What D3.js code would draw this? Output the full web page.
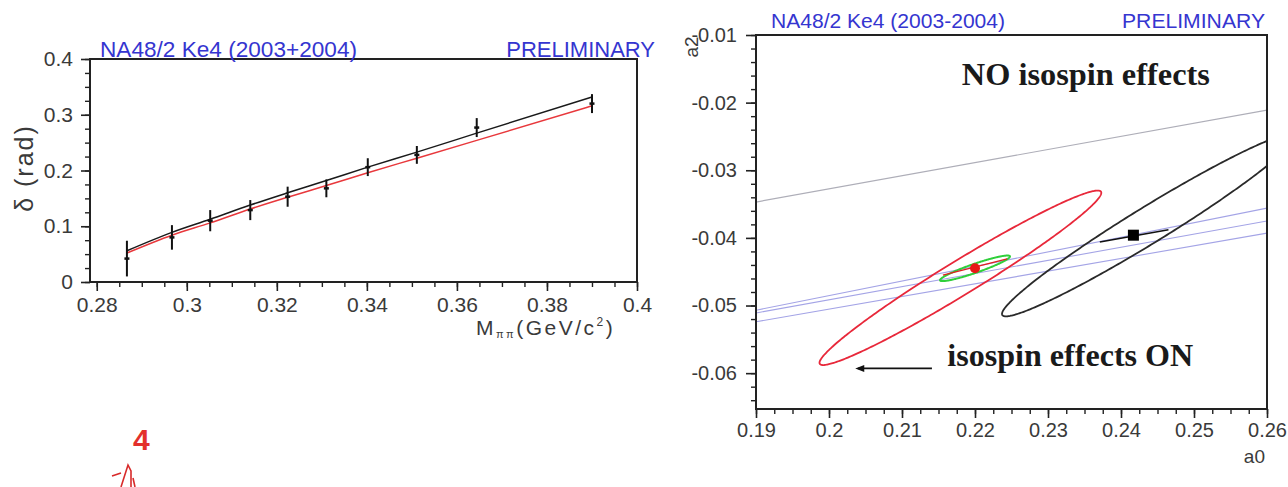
<!DOCTYPE html>
<html>
<head>
<meta charset="utf-8">
<script src="https://cdn.jsdelivr.net/npm/d3@7"></script>
<style>
  body { margin: 0; background: #fff; }
  svg { display: block; }
  .tick text { fill: #3a3a3a; }
</style>
</head>
<body>
<svg id="chart" width="1288" height="487"></svg>
<script>
// ---------- Left panel: phase shift vs M_pipi ----------
const massBins   = [0.2867, 0.2967, 0.3052, 0.3141, 0.3224, 0.3310, 0.3402, 0.3511, 0.3644, 0.3900];
const phaseShift = [0.042, 0.080, 0.110, 0.129, 0.153, 0.168, 0.206, 0.228, 0.277, 0.320];
const phaseErr   = [0.032, 0.022, 0.019, 0.018, 0.018, 0.016, 0.016, 0.016, 0.017, 0.017];
const fitNoIso   = [0.056, 0.089, 0.1125, 0.138, 0.160, 0.182, 0.206, 0.233, 0.267, 0.332];
const fitIso     = [0.052, 0.084, 0.106, 0.131, 0.152, 0.173, 0.196, 0.222, 0.254, 0.316];
const massTicks  = [0.28, 0.30, 0.32, 0.34, 0.36, 0.38, 0.40];
const deltaTicks = [0, 0.1, 0.2, 0.3, 0.4];

// ---------- Right panel: a0 / a2 plane ----------
const a0Ticks = [0.19, 0.20, 0.21, 0.22, 0.23, 0.24, 0.25, 0.26];
const a2Ticks = [-0.06, -0.05, -0.04, -0.03, -0.02, -0.01];
// contours: [a0 centre, a2 centre, sigma a0, sigma a2, correlation]
const contourIsoOn  = [0.2180, -0.0459, 0.0193, 0.0129, 0.974];
const contourNoIso  = [0.2438, -0.0381, 0.0201, 0.0135, 0.973];
const contourGreen  = [0.2200, -0.0445, 0.00479, 0.00189, 0.928];
const pointIsoOn    = [0.2200, -0.0445];
const pointNoIso    = [0.2417, -0.0396];
const segIsoOn      = [[0.2156, -0.0455], [0.2244, -0.0431]];
const segNoIso      = [[0.2371, -0.0406], [0.2465, -0.0388]];
// straight constraint lines: [a2 at a0=0.19, a2 at a0=0.26]
const grayBand   = [[-0.0347, -0.0211]];
const blueBand   = [[-0.0507, -0.0356], [-0.0511, -0.0375], [-0.0524, -0.0393]];

const svg = d3.select("#chart");
const sans = "'Liberation Sans', Arial, sans-serif";
const serif = "'Liberation Serif', 'Times New Roman', serif";
const plain = digits => d => String(+d.toFixed(digits));

function minorValues(lo, hi, step) {
  const out = [];
  const n = Math.round((hi - lo) / step);
  for (let i = 0; i <= n; i++) out.push(+(lo + i * step).toFixed(6));
  return out;
}

// ===== Left panel =====
{
  const x = d3.scaleLinear([0.2785, 0.40], [90, 637]);
  const y = d3.scaleLinear([0, 0.4], [282, 59]);
  const g = svg.append("g");

  // minor ticks
  g.append("g").attr("transform", "translate(0,282)")
    .call(d3.axisBottom(x).tickValues(minorValues(0.28, 0.40, 0.005)).tickSize(5).tickFormat(""))
    .call(s => s.select(".domain").remove())
    .call(s => s.selectAll("line").attr("stroke", "#222").attr("stroke-width", 1.4));
  g.append("g").attr("transform", "translate(90,0)")
    .call(d3.axisLeft(y).tickValues(minorValues(0, 0.4, 0.025)).tickSize(5).tickFormat(""))
    .call(s => s.select(".domain").remove())
    .call(s => s.selectAll("line").attr("stroke", "#222").attr("stroke-width", 1.4));

  // major ticks + labels
  g.append("g").attr("transform", "translate(0,282)")
    .call(d3.axisBottom(x).tickValues(massTicks).tickSize(9).tickPadding(6).tickFormat(plain(2)))
    .call(s => s.select(".domain").remove())
    .call(s => s.selectAll("line").attr("stroke", "#222").attr("stroke-width", 1.6))
    .call(s => s.selectAll("text").attr("font-family", sans).attr("font-size", 21));
  g.append("g").attr("transform", "translate(90,0)")
    .call(d3.axisLeft(y).tickValues(deltaTicks).tickSize(9).tickPadding(8).tickFormat(plain(1)))
    .call(s => s.select(".domain").remove())
    .call(s => s.selectAll("line").attr("stroke", "#222").attr("stroke-width", 1.6))
    .call(s => s.selectAll("text").attr("font-family", sans).attr("font-size", 21));

  // frame
  g.append("rect").attr("x", 90).attr("y", 59).attr("width", 547).attr("height", 223)
    .attr("fill", "none").attr("stroke", "#222").attr("stroke-width", 2);

  // fit curves
  const line = d3.line().curve(d3.curveMonotoneX);
  g.append("path")
    .attr("d", line(massBins.map((m, i) => [x(m), y(fitIso[i])])))
    .attr("fill", "none").attr("stroke", "#e8383c").attr("stroke-width", 1.5);
  g.append("path")
    .attr("d", line(massBins.map((m, i) => [x(m), y(fitNoIso[i])])))
    .attr("fill", "none").attr("stroke", "#1a1a1a").attr("stroke-width", 1.5);

  // data points with error bars
  const pts = g.append("g");
  massBins.forEach((m, i) => {
    pts.append("line")
      .attr("x1", x(m)).attr("x2", x(m))
      .attr("y1", y(phaseShift[i] - phaseErr[i])).attr("y2", y(phaseShift[i] + phaseErr[i]))
      .attr("stroke", "#111").attr("stroke-width", 2);
    pts.append("line")
      .attr("x1", x(m) - 2.5).attr("x2", x(m) + 2.5)
      .attr("y1", y(phaseShift[i])).attr("y2", y(phaseShift[i]))
      .attr("stroke", "#111").attr("stroke-width", 2.5);
  });

  // titles
  g.append("text").attr("x", 100).attr("y", 57)
    .attr("font-family", sans).attr("font-size", 22).attr("fill", "#3535d0")
    .attr("textLength", 257).attr("lengthAdjust", "spacingAndGlyphs")
    .text("NA48/2 Ke4 (2003+2004)");
  g.append("text").attr("x", 655).attr("y", 57).attr("text-anchor", "end")
    .attr("font-family", sans).attr("font-size", 22).attr("fill", "#3535d0")
    .text("PRELIMINARY");

  // axis titles
  g.append("text").attr("transform", "translate(33,168) rotate(-90)")
    .attr("text-anchor", "middle").attr("font-family", sans).attr("font-size", 25)
    .attr("letter-spacing", 2).attr("fill", "#3a3a3a")
    .text("δ (rad)");
  const xt = g.append("text").attr("x", 476).attr("y", 335)
    .attr("font-family", sans).attr("font-size", 21).attr("fill", "#3a3a3a").attr("letter-spacing", 2.5);
  xt.append("tspan").text("M");
  xt.append("tspan").attr("font-size", 11).attr("dy", 3).text("ππ");
  xt.append("tspan").attr("dy", -3).text("(GeV/c");
  xt.append("tspan").attr("font-size", 12).attr("dy", -9).text("2");
  xt.append("tspan").attr("dy", 9).text(")");

  // slide number
  g.append("text").attr("x", 133).attr("y", 450)
    .attr("font-family", sans).attr("font-weight", "bold").attr("font-size", 30).attr("fill", "#e3302c")
    .text("4");
  g.append("path").attr("d", "M112,476 L121,473 M121,487 L128,465 L131,471 L131,487 M133,478 L135,487")
    .attr("fill", "none").attr("stroke", "#d82a2a").attr("stroke-width", 1.6);
}

// ===== Right panel =====
{
  const x = d3.scaleLinear([0.19, 0.26], [756, 1267]);
  const y = d3.scaleLinear([-0.0653, -0.01], [409, 35]);
  const g = svg.append("g");

  g.append("defs").append("clipPath").attr("id", "plotR")
    .append("rect").attr("x", 756).attr("y", 35).attr("width", 511).attr("height", 374);

  // minor ticks
  g.append("g").attr("transform", "translate(0,409)")
    .call(d3.axisBottom(x).tickValues(minorValues(0.19, 0.26, 0.0025)).tickSize(5).tickFormat(""))
    .call(s => s.select(".domain").remove())
    .call(s => s.selectAll("line").attr("stroke", "#222").attr("stroke-width", 1.4));
  g.append("g").attr("transform", "translate(756,0)")
    .call(d3.axisLeft(y).tickValues(minorValues(-0.064, -0.01, 0.002)).tickSize(5).tickFormat(""))
    .call(s => s.select(".domain").remove())
    .call(s => s.selectAll("line").attr("stroke", "#222").attr("stroke-width", 1.4));

  // major ticks + labels
  g.append("g").attr("transform", "translate(0,409)")
    .call(d3.axisBottom(x).tickValues(a0Ticks).tickSize(9).tickPadding(5).tickFormat(plain(2)))
    .call(s => s.select(".domain").remove())
    .call(s => s.selectAll("line").attr("stroke", "#222").attr("stroke-width", 1.6))
    .call(s => s.selectAll("text").attr("font-family", sans).attr("font-size", 20));
  g.append("g").attr("transform", "translate(756,0)")
    .call(d3.axisLeft(y).tickValues(a2Ticks).tickSize(10).tickPadding(9).tickFormat(plain(2)))
    .call(s => s.select(".domain").remove())
    .call(s => s.selectAll("line").attr("stroke", "#222").attr("stroke-width", 1.6))
    .call(s => s.selectAll("text").attr("font-family", sans).attr("font-size", 20));

  const plot = g.append("g").attr("clip-path", "url(#plotR)");

  // constraint lines
  grayBand.forEach(d => plot.append("line")
    .attr("x1", x(0.19)).attr("y1", y(d[0])).attr("x2", x(0.26)).attr("y2", y(d[1]))
    .attr("stroke", "#aeaeb8").attr("stroke-width", 1.2));
  blueBand.forEach(d => plot.append("line")
    .attr("x1", x(0.19)).attr("y1", y(d[0])).attr("x2", x(0.26)).attr("y2", y(d[1]))
    .attr("stroke", "#a4a4e6").attr("stroke-width", 1.1));

  // confidence contours
  function contour(c) {
    const [cx, cy, sx, sy, r] = c;
    const pts = d3.range(0, 361).map(k => {
      const t = k / 360 * 2 * Math.PI;
      return [x(cx + sx * Math.cos(t)), y(cy + sy * (r * Math.cos(t) + Math.sqrt(1 - r * r) * Math.sin(t)))];
    });
    return d3.line()(pts) + "Z";
  }
  plot.append("path").attr("d", contour(contourNoIso))
    .attr("fill", "none").attr("stroke", "#2a2a2a").attr("stroke-width", 1.8);
  plot.append("path").attr("d", contour(contourIsoOn))
    .attr("fill", "none").attr("stroke", "#e8283a").attr("stroke-width", 1.8);
  plot.append("path").attr("d", contour(contourGreen))
    .attr("fill", "none").attr("stroke", "#2fcf3a").attr("stroke-width", 2);

  // points with their error segments
  plot.append("line")
    .attr("x1", x(segIsoOn[0][0])).attr("y1", y(segIsoOn[0][1]))
    .attr("x2", x(segIsoOn[1][0])).attr("y2", y(segIsoOn[1][1]))
    .attr("stroke", "#e02020").attr("stroke-width", 1.4);
  plot.append("line")
    .attr("x1", x(segNoIso[0][0])).attr("y1", y(segNoIso[0][1]))
    .attr("x2", x(segNoIso[1][0])).attr("y2", y(segNoIso[1][1]))
    .attr("stroke", "#111").attr("stroke-width", 1.6);
  plot.append("circle").attr("cx", x(pointIsoOn[0])).attr("cy", y(pointIsoOn[1])).attr("r", 5)
    .attr("fill", "#e81818");
  plot.append("rect").attr("x", x(pointNoIso[0]) - 5.5).attr("y", y(pointNoIso[1]) - 5.5)
    .attr("width", 11).attr("height", 11).attr("fill", "#000");

  // frame
  g.append("rect").attr("x", 756).attr("y", 35).attr("width", 511).attr("height", 374)
    .attr("fill", "none").attr("stroke", "#222").attr("stroke-width", 2);

  // annotations
  g.append("text").attr("x", x(0.2182)).attr("y", y(-0.0174))
    .attr("font-family", serif).attr("font-weight", "bold").attr("font-size", 31).attr("fill", "#1a1a1a")
    .attr("textLength", 248).attr("lengthAdjust", "spacingAndGlyphs")
    .text("NO isospin effects");
  g.append("text").attr("x", x(0.2162)).attr("y", y(-0.0590))
    .attr("font-family", serif).attr("font-weight", "bold").attr("font-size", 31).attr("fill", "#1a1a1a")
    .attr("textLength", 246).attr("lengthAdjust", "spacingAndGlyphs")
    .text("isospin effects ON");
  const ay = y(-0.0593);
  g.append("line").attr("x1", x(0.2141)).attr("y1", ay).attr("x2", x(0.2040)).attr("y2", ay)
    .attr("stroke", "#111").attr("stroke-width", 1.6);
  g.append("path")
    .attr("d", `M${x(0.2036)},${ay} l9,-3.5 l0,7 Z`).attr("fill", "#111");

  // titles
  g.append("text").attr("x", 771).attr("y", 28)
    .attr("font-family", sans).attr("font-size", 20).attr("fill", "#3535d0")
    .attr("textLength", 234).attr("lengthAdjust", "spacingAndGlyphs")
    .text("NA48/2 Ke4 (2003-2004)");
  g.append("text").attr("x", 1265).attr("y", 28).attr("text-anchor", "end")
    .attr("font-family", sans).attr("font-size", 20).attr("fill", "#3535d0")
    .attr("textLength", 143).attr("lengthAdjust", "spacingAndGlyphs")
    .text("PRELIMINARY");

  // axis titles
  g.append("text").attr("transform", "translate(698,47) rotate(-90)")
    .attr("text-anchor", "middle").attr("font-family", sans).attr("font-size", 19).attr("fill", "#3a3a3a")
    .text("a2");
  g.append("text").attr("x", 1265).attr("y", 463).attr("text-anchor", "end")
    .attr("font-family", sans).attr("font-size", 19).attr("fill", "#3a3a3a")
    .text("a0");
}
</script>
</body>
</html>
